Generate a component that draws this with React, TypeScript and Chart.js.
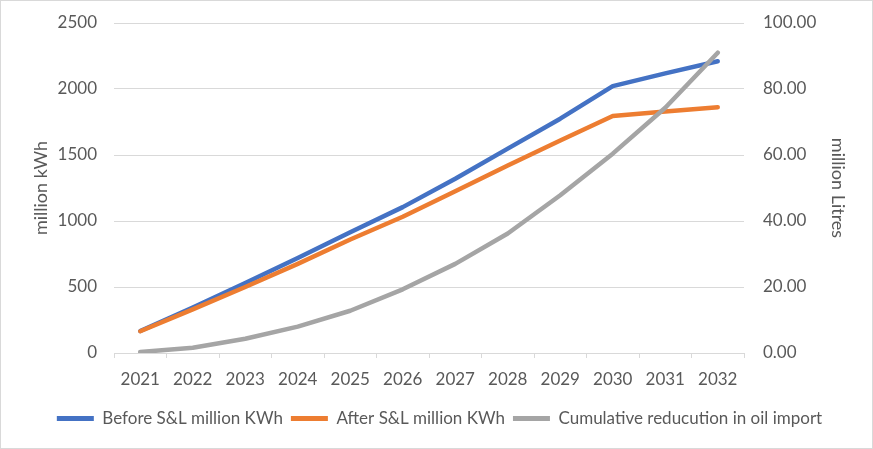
import React, { useEffect, useRef } from "react";
import { Chart, registerables } from "chart.js";

Chart.register(...registerables);

const categories = ["2021", "2022", "2023", "2024", "2025", "2026", "2027", "2028", "2029", "2030", "2031", "2032"];
const beforeSL = [167, 345, 530, 720, 915, 1105, 1320, 1548, 1775, 2022, 2118, 2210];
const afterSL = [165, 330, 500, 675, 860, 1032, 1225, 1420, 1610, 1795, 1830, 1862];
const oilReduction = [0.3, 1.6, 4.3, 8.0, 12.8, 19.3, 27.0, 36.2, 47.8, 60.4, 74.3, 91.0];
const seriesNames = ["Before S&L million KWh", "After S&L million KWh", "Cumulative reducution in oil import"];
const seriesColors = ["#4472C4", "#ED7D31", "#A5A5A5"];

const FONT = "Lato, 'Open Sans', sans-serif";
const TEXT = "#595959";
const GRID = "#D9D9D9";

export default function App() {
  const ref = useRef<HTMLCanvasElement | null>(null);

  useEffect(() => {
    document.body.style.margin = "0";
    const ctx = ref.current;
    if (!ctx) return;
    const chart = new Chart(ctx, {
      type: "line",
      data: {
        labels: categories,
        datasets: [
          { label: seriesNames[0], data: beforeSL, borderColor: seriesColors[0], backgroundColor: seriesColors[0], yAxisID: "y", order: 3 },
          { label: seriesNames[1], data: afterSL, borderColor: seriesColors[1], backgroundColor: seriesColors[1], yAxisID: "y", order: 2 },
          { label: seriesNames[2], data: oilReduction, borderColor: seriesColors[2], backgroundColor: seriesColors[2], yAxisID: "y1", order: 1 },
        ],
      },
      options: {
        animation: false,
        responsive: true,
        maintainAspectRatio: false,
        elements: {
          line: { borderWidth: 4.5, tension: 0, borderCapStyle: "round", borderJoinStyle: "round" },
          point: { radius: 0, hoverRadius: 0 },
        },
        layout: { padding: { left: 25, right: 19, top: 22, bottom: 11 } },
        plugins: {
          tooltip: { enabled: false },
          legend: {
            position: "bottom",
            labels: {
              boxWidth: 37,
              boxHeight: 5,
              padding: 8,
              color: TEXT,
              font: { family: FONT, size: 17 },
              generateLabels: () =>
                seriesNames.map((n, i) => ({
                  text: n,
                  fillStyle: seriesColors[i],
                  strokeStyle: seriesColors[i],
                  lineWidth: 0,
                  fontColor: TEXT,
                  datasetIndex: i,
                  hidden: false,
                })),
            },
          },
        },
        scales: {
          x: {
            offset: true,
            grid: { offset: true, drawOnChartArea: false, drawTicks: true, tickLength: 5, color: GRID },
            border: { color: GRID, width: 1 },
            ticks: { color: TEXT, font: { family: FONT, size: 17 }, padding: 11, maxRotation: 0 },
            afterFit: (s: any) => { s.height = 49; },
          },
          y: {
            position: "left",
            min: 0,
            max: 2500,
            ticks: { stepSize: 500, color: TEXT, font: { family: FONT, size: 17 }, padding: 17, callback: (v: any) => String(v) },
            grid: { color: GRID, drawTicks: false },
            border: { display: false },
            title: { display: true, text: "million kWh", color: TEXT, font: { family: FONT, size: 18 } },
            afterFit: (s: any) => { s.width = 88; s.paddingTop = 4; s.paddingBottom = 4; },
          },
          y1: {
            position: "right",
            min: 0,
            max: 100,
            ticks: { stepSize: 20, color: TEXT, font: { family: FONT, size: 17 }, padding: 19, callback: (v: any) => Number(v).toFixed(2) },
            grid: { drawOnChartArea: false, drawTicks: false },
            border: { display: false },
            title: { display: true, text: "million Litres", color: TEXT, font: { family: FONT, size: 18 } },
            afterFit: (s: any) => { s.width = 109; s.paddingTop = 4; s.paddingBottom = 4; },
          },
        },
      },
    });
    return () => chart.destroy();
  }, []);

  return (
    <div
      style={{
        position: "absolute",
        left: 0,
        top: 0,
        width: 873,
        height: 449,
        boxSizing: "border-box",
        border: "1px solid #D9D9D9",
        background: "#fff",
      }}
    >
      <div style={{ position: "relative", width: 871, height: 447 }}>
        <canvas ref={ref} />
      </div>
    </div>
  );
}
